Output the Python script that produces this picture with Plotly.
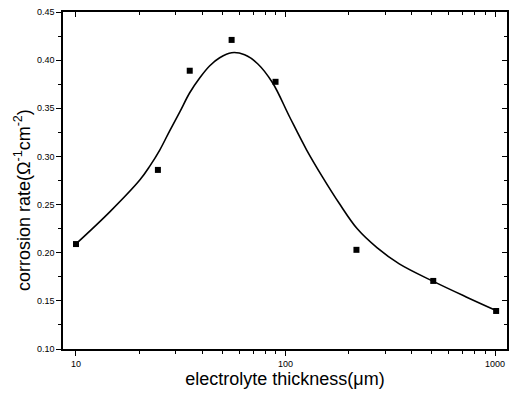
import plotly.graph_objects as go

# measured data points
thickness = [10, 24.6, 34.9, 55.3, 89.6, 218, 507, 1012]
rate = [0.209, 0.286, 0.389, 0.421, 0.3775, 0.203, 0.1707, 0.1395]

# fitted curve
curve_x = [10, 14.5, 20.2, 22.5, 25.1, 28.0, 31.3, 34.9, 39.0, 43.5, 48.5, 55.3,
           63.8, 73.6, 86.7, 104.5, 126, 150, 181, 220, 274, 349, 513, 728, 1023]
curve_y = [0.2091, 0.2424, 0.2757, 0.2899, 0.3066, 0.3266, 0.3463, 0.3661,
           0.3817, 0.3942, 0.4025, 0.4077, 0.4056, 0.3963, 0.3765, 0.3412, 0.3069,
           0.2788, 0.2508, 0.2248, 0.2050, 0.1884, 0.1697, 0.1541, 0.1395]

y_ticks = [0.10, 0.15, 0.20, 0.25, 0.30, 0.35, 0.40, 0.45]
y_ticklabels = ["0.10", "0.15", "0.20", "0.25", "0.30", "0.35", "0.40", "0.45"]
x_ticks = [10, 100, 1000]
x_ticklabels = ["10", "100", "1000"]
x_minor = [20, 30, 40, 50, 60, 70, 80, 90, 200, 300, 400, 500, 600, 700, 800, 900]

xr = [0.938, 3.057]
yr = [0.10, 0.45]

fig = go.Figure()
fig.add_trace(go.Scatter(x=curve_x, y=curve_y, mode="lines",
                         line=dict(color="black", width=1.6, shape="spline", smoothing=1.0),
                         showlegend=False, hoverinfo="skip"))
fig.add_trace(go.Scatter(x=thickness, y=rate, mode="markers",
                         marker=dict(symbol="square", size=6, color="black"),
                         showlegend=False))
# invisible trace to show mirrored axes with inward ticks
fig.add_trace(go.Scatter(x=[10], y=[0.2], xaxis="x2", yaxis="y2", mode="markers",
                         marker=dict(opacity=0), showlegend=False, hoverinfo="skip"))

font = "Liberation Sans, Arial, sans-serif"
fig.update_layout(
    width=509, height=395,
    margin=dict(l=63, r=2, t=12, b=46),
    paper_bgcolor="white", plot_bgcolor="white",
    font=dict(family=font, color="black"),
    xaxis=dict(type="log", range=xr, tickvals=x_ticks, ticktext=x_ticklabels,
               ticks="outside", ticklen=5, tickwidth=1, tickcolor="black",
               minor=dict(ticks="outside", ticklen=3, tickvals=x_minor, tickcolor="black", showgrid=False),
               showline=True, linecolor="black", linewidth=1.5, showgrid=False,
               zeroline=False, tickfont=dict(size=9, family=font),
               title=dict(text="electrolyte thickness(μm)", font=dict(size=18, family=font),
                          standoff=5)),
    yaxis=dict(range=yr, tickvals=y_ticks, ticktext=y_ticklabels,
               ticks="outside", ticklen=5, tickwidth=1, tickcolor="black",
               minor=dict(ticks="outside", ticklen=3, dtick=0.025, tickcolor="black", showgrid=False),
               showline=True, linecolor="black", linewidth=1.5, showgrid=False,
               zeroline=False, tickfont=dict(size=9, family=font)),
    xaxis2=dict(type="log", range=xr, overlaying="x", side="top", tickvals=x_ticks,
                showticklabels=False, ticks="inside", ticklen=5, tickcolor="black",
                minor=dict(ticks="inside", ticklen=3, tickvals=x_minor, tickcolor="black"),
                showline=True, linecolor="black", linewidth=1.5, showgrid=False, zeroline=False),
    yaxis2=dict(range=yr, overlaying="y", side="right", tickvals=y_ticks,
                showticklabels=False, ticks="inside", ticklen=5, tickcolor="black",
                minor=dict(ticks="inside", ticklen=3, dtick=0.025, tickcolor="black"),
                showline=True, linecolor="black", linewidth=1.5, showgrid=False, zeroline=False),
    annotations=[dict(text="corrosion rate(Ω<sup>-1</sup>cm<sup>-2</sup>)", textangle=-90,
                      xref="paper", yref="paper", x=-0.0923, y=0.442,
                      xanchor="center", yanchor="middle", showarrow=False,
                      font=dict(size=18, family=font))],
)

fig.write_html("out.html")
